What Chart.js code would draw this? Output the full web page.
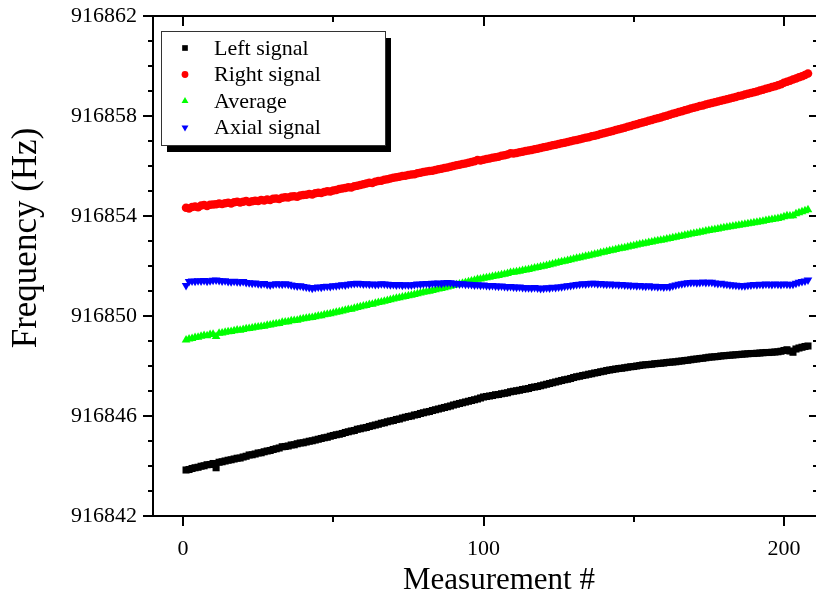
<!DOCTYPE html>
<html lang="en">
<head>
<meta charset="UTF-8" />
<title>Frequency vs measurement</title>
<script src="https://cdn.jsdelivr.net/npm/chart.js"></script>
<style>
  body { margin: 0; padding: 0; background: #fff; }
  #wrap { width: 819px; height: 596px; position: relative; }
</style>
</head>
<body>
<div id="wrap"><canvas id="freqChart" width="819" height="596"></canvas></div>
<script>
// measured frequencies (Hz), measurement #1 .. #208
const leftSignal = [
  916843.84, 916843.86, 916843.90, 916843.93, 916843.95, 916843.99, 916844.01, 916844.05, 916844.06, 916844.10,
  916843.93, 916844.15, 916844.17, 916844.20, 916844.23, 916844.25, 916844.28, 916844.31, 916844.32, 916844.36,
  916844.39, 916844.44, 916844.45, 916844.48, 916844.52, 916844.53, 916844.57, 916844.60, 916844.62, 916844.66,
  916844.69, 916844.72, 916844.77, 916844.78, 916844.80, 916844.84, 916844.85, 916844.89, 916844.92, 916844.93,
  916844.96, 916844.99, 916845.01, 916845.04, 916845.07, 916845.10, 916845.13, 916845.15, 916845.19, 916845.22,
  916845.25, 916845.27, 916845.30, 916845.34, 916845.37, 916845.40, 916845.42, 916845.47, 916845.49, 916845.52,
  916845.54, 916845.58, 916845.61, 916845.64, 916845.67, 916845.71, 916845.73, 916845.77, 916845.80, 916845.82,
  916845.86, 916845.88, 916845.92, 916845.95, 916845.98, 916846.00, 916846.04, 916846.06, 916846.10, 916846.13,
  916846.16, 916846.18, 916846.22, 916846.25, 916846.28, 916846.31, 916846.34, 916846.37, 916846.40, 916846.44,
  916846.47, 916846.50, 916846.53, 916846.56, 916846.59, 916846.62, 916846.65, 916846.68, 916846.72, 916846.76,
  916846.78, 916846.80, 916846.82, 916846.85, 916846.86, 916846.89, 916846.91, 916846.93, 916846.97, 916846.99,
  916847.01, 916847.03, 916847.06, 916847.08, 916847.10, 916847.14, 916847.16, 916847.18, 916847.21, 916847.24,
  916847.27, 916847.30, 916847.33, 916847.36, 916847.39, 916847.42, 916847.45, 916847.47, 916847.50, 916847.54,
  916847.57, 916847.59, 916847.62, 916847.64, 916847.67, 916847.69, 916847.72, 916847.74, 916847.77, 916847.79,
  916847.82, 916847.84, 916847.86, 916847.88, 916847.90, 916847.91, 916847.93, 916847.95, 916847.97, 916847.98,
  916848.00, 916848.02, 916848.04, 916848.05, 916848.06, 916848.07, 916848.09, 916848.10, 916848.11, 916848.12,
  916848.14, 916848.15, 916848.16, 916848.17, 916848.19, 916848.20, 916848.22, 916848.23, 916848.25, 916848.27,
  916848.28, 916848.30, 916848.31, 916848.33, 916848.35, 916848.36, 916848.37, 916848.38, 916848.40, 916848.41,
  916848.42, 916848.43, 916848.44, 916848.45, 916848.46, 916848.47, 916848.48, 916848.49, 916848.50, 916848.50,
  916848.51, 916848.52, 916848.53, 916848.54, 916848.54, 916848.55, 916848.56, 916848.57, 916848.59, 916848.62,
  916848.65, 916848.60, 916848.55, 916848.68, 916848.72, 916848.75, 916848.78, 916848.80
];

const rightSignal = [
  916854.33, 916854.30, 916854.36, 916854.38, 916854.35, 916854.42, 916854.44, 916854.40, 916854.45, 916854.46,
  916854.47, 916854.50, 916854.48, 916854.51, 916854.53, 916854.50, 916854.55, 916854.57, 916854.54, 916854.57,
  916854.60, 916854.56, 916854.59, 916854.61, 916854.60, 916854.64, 916854.62, 916854.66, 916854.64, 916854.69,
  916854.70, 916854.68, 916854.73, 916854.75, 916854.74, 916854.78, 916854.79, 916854.77, 916854.82, 916854.84,
  916854.85, 916854.88, 916854.86, 916854.91, 916854.93, 916854.92, 916854.96, 916854.99, 916854.98, 916855.02,
  916855.04, 916855.08, 916855.10, 916855.12, 916855.15, 916855.14, 916855.19, 916855.21, 916855.24, 916855.27,
  916855.30, 916855.33, 916855.32, 916855.37, 916855.40, 916855.41, 916855.45, 916855.47, 916855.50, 916855.53,
  916855.55, 916855.57, 916855.60, 916855.61, 916855.64, 916855.66, 916855.67, 916855.71, 916855.73, 916855.76,
  916855.78, 916855.80, 916855.81, 916855.84, 916855.87, 916855.89, 916855.92, 916855.94, 916855.97, 916856.00,
  916856.03, 916856.05, 916856.08, 916856.10, 916856.13, 916856.16, 916856.19, 916856.24, 916856.22, 916856.25,
  916856.28, 916856.30, 916856.33, 916856.35, 916856.37, 916856.41, 916856.43, 916856.46, 916856.51, 916856.50,
  916856.52, 916856.55, 916856.57, 916856.60, 916856.62, 916856.64, 916856.67, 916856.69, 916856.72, 916856.75,
  916856.77, 916856.80, 916856.83, 916856.85, 916856.88, 916856.91, 916856.93, 916856.96, 916856.99, 916857.02,
  916857.04, 916857.07, 916857.10, 916857.13, 916857.15, 916857.19, 916857.21, 916857.24, 916857.28, 916857.31,
  916857.34, 916857.37, 916857.40, 916857.44, 916857.47, 916857.50, 916857.53, 916857.57, 916857.60, 916857.64,
  916857.67, 916857.71, 916857.74, 916857.77, 916857.81, 916857.84, 916857.88, 916857.91, 916857.94, 916857.98,
  916858.01, 916858.05, 916858.09, 916858.12, 916858.16, 916858.19, 916858.23, 916858.26, 916858.30, 916858.33,
  916858.36, 916858.40, 916858.42, 916858.46, 916858.49, 916858.52, 916858.55, 916858.58, 916858.61, 916858.64,
  916858.67, 916858.70, 916858.73, 916858.76, 916858.80, 916858.82, 916858.86, 916858.89, 916858.92, 916858.95,
  916858.98, 916859.02, 916859.05, 916859.09, 916859.12, 916859.16, 916859.19, 916859.23, 916859.27, 916859.33,
  916859.37, 916859.41, 916859.46, 916859.50, 916859.55, 916859.59, 916859.64, 916859.70
];

const average = [
  916849.04, 916849.08, 916849.10, 916849.14, 916849.15, 916849.19, 916849.22, 916849.21, 916849.26, 916849.27,
  916849.18, 916849.31, 916849.32, 916849.35, 916849.37, 916849.38, 916849.41, 916849.44, 916849.43, 916849.46,
  916849.49, 916849.50, 916849.52, 916849.55, 916849.56, 916849.58, 916849.59, 916849.63, 916849.64, 916849.67,
  916849.69, 916849.70, 916849.75, 916849.76, 916849.77, 916849.81, 916849.82, 916849.83, 916849.87, 916849.89,
  916849.91, 916849.93, 916849.94, 916849.97, 916850.00, 916850.01, 916850.05, 916850.07, 916850.09, 916850.12,
  916850.15, 916850.17, 916850.20, 916850.23, 916850.26, 916850.27, 916850.31, 916850.34, 916850.37, 916850.40,
  916850.42, 916850.46, 916850.47, 916850.51, 916850.54, 916850.56, 916850.59, 916850.62, 916850.65, 916850.68,
  916850.71, 916850.73, 916850.76, 916850.78, 916850.81, 916850.83, 916850.86, 916850.89, 916850.92, 916850.95,
  916850.97, 916850.99, 916851.02, 916851.05, 916851.08, 916851.10, 916851.13, 916851.16, 916851.19, 916851.22,
  916851.25, 916851.28, 916851.31, 916851.34, 916851.37, 916851.40, 916851.43, 916851.47, 916851.48, 916851.51,
  916851.53, 916851.55, 916851.58, 916851.60, 916851.62, 916851.65, 916851.67, 916851.70, 916851.74, 916851.75,
  916851.77, 916851.79, 916851.82, 916851.84, 916851.86, 916851.89, 916851.92, 916851.94, 916851.97, 916851.99,
  916852.02, 916852.05, 916852.08, 916852.11, 916852.14, 916852.17, 916852.19, 916852.22, 916852.25, 916852.28,
  916852.31, 916852.33, 916852.36, 916852.39, 916852.41, 916852.44, 916852.47, 916852.49, 916852.53, 916852.55,
  916852.58, 916852.61, 916852.63, 916852.66, 916852.69, 916852.71, 916852.73, 916852.76, 916852.79, 916852.81,
  916852.84, 916852.87, 916852.89, 916852.91, 916852.94, 916852.96, 916852.99, 916853.01, 916853.03, 916853.05,
  916853.08, 916853.10, 916853.13, 916853.15, 916853.18, 916853.20, 916853.23, 916853.25, 916853.28, 916853.30,
  916853.32, 916853.35, 916853.37, 916853.40, 916853.42, 916853.44, 916853.46, 916853.48, 916853.51, 916853.53,
  916853.55, 916853.57, 916853.59, 916853.61, 916853.63, 916853.65, 916853.67, 916853.69, 916853.71, 916853.73,
  916853.75, 916853.77, 916853.79, 916853.82, 916853.84, 916853.86, 916853.88, 916853.90, 916853.93, 916853.97,
  916854.01, 916854.00, 916854.01, 916854.09, 916854.13, 916854.17, 916854.21, 916854.25
];

const axialSignal = [
  916851.22, 916851.38, 916851.40, 916851.39, 916851.41, 916851.40, 916851.42, 916851.39, 916851.41, 916851.43,
  916851.44, 916851.42, 916851.40, 916851.41, 916851.38, 916851.37, 916851.39, 916851.37, 916851.36, 916851.38,
  916851.34, 916851.33, 916851.31, 916851.32, 916851.29, 916851.28, 916851.30, 916851.26, 916851.24, 916851.27,
  916851.29, 916851.28, 916851.27, 916851.29, 916851.27, 916851.24, 916851.22, 916851.20, 916851.21, 916851.18,
  916851.16, 916851.14, 916851.11, 916851.14, 916851.16, 916851.15, 916851.18, 916851.19, 916851.18, 916851.21,
  916851.21, 916851.23, 916851.25, 916851.24, 916851.27, 916851.29, 916851.30, 916851.31, 916851.30, 916851.28,
  916851.29, 916851.27, 916851.28, 916851.26, 916851.27, 916851.29, 916851.28, 916851.27, 916851.25, 916851.26,
  916851.24, 916851.26, 916851.23, 916851.25, 916851.24, 916851.24, 916851.26, 916851.28, 916851.27, 916851.29,
  916851.30, 916851.28, 916851.31, 916851.31, 916851.32, 916851.30, 916851.33, 916851.34, 916851.33, 916851.31,
  916851.30, 916851.28, 916851.29, 916851.27, 916851.27, 916851.26, 916851.24, 916851.25, 916851.23, 916851.24,
  916851.22, 916851.21, 916851.22, 916851.20, 916851.19, 916851.20, 916851.18, 916851.17, 916851.18, 916851.16,
  916851.15, 916851.16, 916851.14, 916851.13, 916851.13, 916851.12, 916851.14, 916851.12, 916851.10, 916851.11,
  916851.13, 916851.12, 916851.15, 916851.14, 916851.16, 916851.17, 916851.19, 916851.21, 916851.22, 916851.24,
  916851.26, 916851.27, 916851.29, 916851.28, 916851.30, 916851.31, 916851.31, 916851.29, 916851.30, 916851.28,
  916851.27, 916851.28, 916851.26, 916851.27, 916851.25, 916851.26, 916851.24, 916851.24, 916851.22, 916851.23,
  916851.21, 916851.22, 916851.20, 916851.19, 916851.21, 916851.18, 916851.19, 916851.17, 916851.18, 916851.16,
  916851.18, 916851.17, 916851.21, 916851.24, 916851.27, 916851.29, 916851.31, 916851.33, 916851.34, 916851.35,
  916851.33, 916851.34, 916851.36, 916851.34, 916851.35, 916851.35, 916851.32, 916851.30, 916851.31, 916851.28,
  916851.27, 916851.25, 916851.24, 916851.23, 916851.22, 916851.21, 916851.21, 916851.23, 916851.24, 916851.26,
  916851.25, 916851.27, 916851.26, 916851.28, 916851.27, 916851.26, 916851.28, 916851.27, 916851.26, 916851.28,
  916851.27, 916851.26, 916851.27, 916851.31, 916851.35, 916851.38, 916851.40, 916851.44
];

const seriesNames = ['Left signal', 'Right signal', 'Average', 'Axial signal'];
const xLabelled = [0, 100, 200];
const xMinor = [50, 150];
const yLabelled = [916842, 916846, 916850, 916854, 916858, 916862];
const yMin = 916842, yMax = 916862;
const xTitle = 'Measurement #';
const yTitle = 'Frequency (Hz)';

const measurement = leftSignal.map((_, i) => i + 1);
const toPoints = arr => arr.map((v, i) => ({ x: measurement[i], y: v }));

const serif = "'Liberation Serif', 'Times New Roman', serif";
Chart.defaults.font.family = serif;
Chart.defaults.color = '#000';

// frame, tick marks (out on left/bottom, in on top/right) and axis titles
const frame = {
  id: 'frame',
  afterDraw(chart) {
    const { ctx, chartArea: a, scales: { x, y } } = chart;
    ctx.save();
    ctx.strokeStyle = '#000';
    ctx.lineWidth = 2;
    ctx.beginPath();
    ctx.moveTo(a.right + 2, a.top);
    ctx.lineTo(a.left, a.top);
    ctx.lineTo(a.left, a.bottom);
    ctx.lineTo(a.right + 2, a.bottom);
    ctx.stroke();

    ctx.beginPath();
    xLabelled.concat(xMinor).forEach(v => {
      const px = Math.round(x.getPixelForValue(v));
      const major = xLabelled.includes(v);
      ctx.moveTo(px, a.bottom); ctx.lineTo(px, a.bottom + (major ? 10 : 6));
      ctx.moveTo(px, a.top); ctx.lineTo(px, a.top + (major ? 10 : 6));
    });
    for (let v = yMin; v <= yMax; v++) {
      const py = Math.round(y.getPixelForValue(v));
      const major = yLabelled.includes(v);
      ctx.moveTo(a.left - (major ? 10 : 5), py); ctx.lineTo(a.left, py);
      ctx.moveTo(a.right + 2, py); ctx.lineTo(a.right + 2 - (major ? 7 : 3), py);
    }
    ctx.stroke();

    ctx.fillStyle = '#000';
    ctx.textAlign = 'center';
    ctx.textBaseline = 'middle';
    ctx.font = '31px ' + serif;
    ctx.fillText(xTitle, 499, 581);
    ctx.translate(27, 238);
    ctx.rotate(-Math.PI / 2);
    ctx.font = '35px ' + serif;
    ctx.fillText(yTitle, 0, 0);
    ctx.restore();
  }
};

// boxed legend with drop shadow, inside the plot
const boxLegend = {
  id: 'boxLegend',
  afterDraw(chart) {
    const { ctx, chartArea: a } = chart;
    const x0 = a.left + 8, y0 = a.top + 15, w = 224, h = 114;
    ctx.save();
    ctx.fillStyle = '#000';
    ctx.fillRect(x0 + 6, y0 + 7, w, h);
    ctx.fillStyle = '#fff';
    ctx.fillRect(x0, y0, w, h);
    ctx.strokeStyle = '#333';
    ctx.lineWidth = 1;
    ctx.strokeRect(x0 + 0.5, y0 + 0.5, w, h);
    ctx.font = '22px ' + serif;
    ctx.textBaseline = 'middle';
    chart.data.datasets.forEach((ds, i) => {
      const cy = y0 + 17 + i * 26.5;
      ctx.fillStyle = ds.pointBackgroundColor;
      Chart.helpers.drawPoint(ctx, {
        pointStyle: ds.pointStyle,
        radius: ds.pointStyle === 'circle' ? 3.4 : 4,
        rotation: ds.pointRotation || 0,
        borderWidth: 0
      }, x0 + 24, cy);
      ctx.fillStyle = '#000';
      ctx.fillText(ds.label, x0 + 53, cy + 1);
    });
    ctx.restore();
  }
};

const styles = [
  { color: '#000000', pointStyle: 'rect', radius: 5, rotation: 0, order: 3 },
  { color: '#ff0000', pointStyle: 'circle', radius: 4.3, rotation: 0, order: 2 },
  { color: '#00ff00', pointStyle: 'triangle', radius: 5, rotation: 0, order: 1 },
  { color: '#0000ff', pointStyle: 'triangle', radius: 5, rotation: 180, order: 0 }
];
const values = [leftSignal, rightSignal, average, axialSignal];

const datasets = seriesNames.map((name, i) => ({
  label: name,
  data: toPoints(values[i]),
  showLine: false,
  order: styles[i].order,
  pointStyle: styles[i].pointStyle,
  pointRadius: styles[i].radius,
  pointHoverRadius: styles[i].radius,
  pointRotation: styles[i].rotation,
  pointBackgroundColor: styles[i].color,
  pointBorderColor: styles[i].color,
  pointBorderWidth: 0
}));

new Chart(document.getElementById('freqChart'), {
  type: 'scatter',
  data: { datasets },
  options: {
    responsive: false,
    animation: false,
    devicePixelRatio: 1,
    layout: { padding: { top: 16, right: 1, left: 0, bottom: 0 } },
    plugins: {
      legend: { display: false },
      tooltip: { enabled: false }
    },
    scales: {
      x: {
        type: 'linear',
        min: -10,
        max: 210,
        grid: { display: false, drawTicks: false },
        border: { display: false },
        ticks: {
          padding: 20,
          maxRotation: 0,
          autoSkip: false,
          font: { size: 22 },
          callback: v => String(v)
        },
        afterBuildTicks: s => { s.ticks = xLabelled.map(v => ({ value: v })); },
        afterFit: s => { s.height = 80; s.paddingLeft = 0; s.paddingRight = 0; }
      },
      y: {
        min: yMin,
        max: yMax,
        grid: { display: false, drawTicks: false },
        border: { display: false },
        ticks: {
          padding: 16,
          font: { size: 22 },
          callback: v => String(v)
        },
        afterBuildTicks: s => { s.ticks = yLabelled.map(v => ({ value: v })); },
        afterFit: s => { s.width = 153; s.paddingTop = 0; s.paddingBottom = 0; }
      }
    }
  },
  plugins: [frame, boxLegend]
});
</script>
</body>
</html>
